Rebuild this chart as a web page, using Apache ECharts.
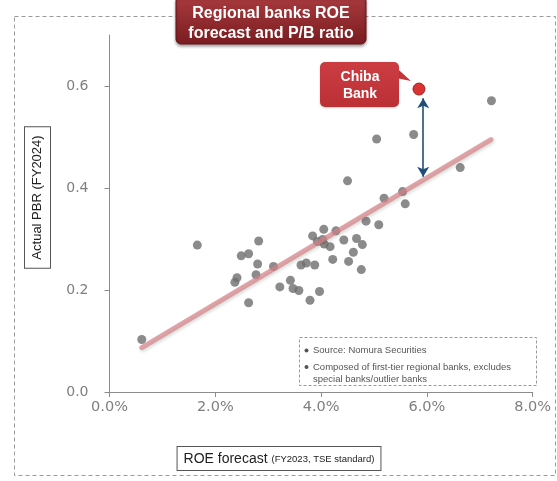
<!DOCTYPE html>
<html>
<head>
<meta charset="utf-8">
<script src="https://cdn.jsdelivr.net/npm/echarts@6/dist/echarts.min.js"></script>
<style>
html,body{margin:0;padding:0;background:#fff;}
#chart{width:557px;height:481px;}
</style>
</head>
<body>
<div id="chart"></div>
<script>
// ---- Data ----
const bankRoe = [0.61,1.66,2.49,2.63,2.82,2.80,3.10,2.77,2.41,2.37,2.63,3.22,3.42,3.47,3.58,3.79,3.97,3.62,3.72,3.88,3.84,4.05,3.93,4.03,4.06,4.17,4.28,4.43,4.22,4.52,4.61,4.67,4.78,4.76,4.85,5.09,4.50,5.19,5.54,5.59,5.05,5.75,6.63,7.22];
const bankPbr = [0.103,0.288,0.267,0.271,0.296,0.251,0.246,0.230,0.224,0.215,0.175,0.206,0.219,0.203,0.199,0.180,0.197,0.249,0.253,0.249,0.306,0.319,0.295,0.299,0.290,0.285,0.316,0.298,0.260,0.256,0.274,0.301,0.289,0.240,0.335,0.328,0.414,0.380,0.393,0.369,0.496,0.505,0.440,0.571];
const chibaRoe = [5.85];
const chibaPbr = [0.594];
const trendRoe = [0.61, 7.21];
const trendPbr = [0.087, 0.495];
const gapRoe = 5.93;
const gapPbr = [0.576, 0.422];
const xTicks = [0, 2, 4, 6, 8];
const yTicks = [0, 0.2, 0.4, 0.6];
const titleLines = ['Regional banks ROE', 'forecast and P/B ratio'];
const calloutLines = ['Chiba', 'Bank'];
const yName = 'Actual PBR (FY2024)';
const xNameMain = 'ROE forecast';
const xNameSub = '(FY2023, TSE standard)';
const notes = ['Source: Nomura Securities', 'Composed of first-tier regional banks, excludes', 'special banks/outlier banks'];

const zip = (a, b) => a.map((v, i) => [v, b[i]]);
const FONT = '"Liberation Sans", Arial, sans-serif';

const chart = echarts.init(document.getElementById('chart'), null, {renderer: 'canvas'});

const option = {
  animation: false,
  backgroundColor: '#fff',
  grid: {left: 109.5, right: 24.3, top: 35, bottom: 89},
  xAxis: {
    type: 'value', min: 0, max: 8, interval: 2,
    splitLine: {show: false},
    axisLine: {show: true, lineStyle: {color: '#8c8c8c', width: 1}},
    axisTick: {show: true, length: 5, customValues: xTicks, lineStyle: {color: '#8c8c8c'}},
    axisLabel: {
      customValues: xTicks,
      color: '#7f7f7f', fontFamily: '"DejaVu Sans", Verdana, sans-serif', fontSize: 14.5, margin: 8,
      formatter: v => v.toFixed(1) + '%'
    }
  },
  yAxis: {
    type: 'value', min: 0, max: 0.7,
    splitLine: {show: false},
    axisLine: {show: true, lineStyle: {color: '#8c8c8c', width: 1}},
    axisTick: {show: true, length: 5, customValues: yTicks, lineStyle: {color: '#8c8c8c'}},
    axisLabel: {
      customValues: yTicks,
      color: '#7f7f7f', fontFamily: '"DejaVu Sans", Verdana, sans-serif', fontSize: 14, margin: 21,
      formatter: v => v.toFixed(1)
    }
  },
  series: [
    {
      type: 'scatter', name: 'banks',
      data: zip(bankRoe, bankPbr),
      symbolSize: 9,
      itemStyle: {color: '#6e6e6e'},
      z: 2
    },
    {
      type: 'line', name: 'trend',
      data: zip(trendRoe, trendPbr),
      symbol: 'none',
      lineStyle: {color: 'rgba(214,130,136,0.72)', width: 5, cap: 'round',
        shadowColor: 'rgba(60,80,60,0.25)', shadowBlur: 3, shadowOffsetX: 1, shadowOffsetY: 2},
      z: 3,
      markLine: {
        silent: true,
        symbol: ['arrow', 'arrow'],
        symbolSize: [9, 10],
        label: {show: false},
        lineStyle: {color: '#1f4e79', width: 1.6, type: 'solid'},
        data: [[{coord: [gapRoe, gapPbr[0]]}, {coord: [gapRoe, gapPbr[1]]}]]
      }
    },
    {
      type: 'scatter', name: 'Chiba',
      data: zip(chibaRoe, chibaPbr),
      symbolSize: 12,
      itemStyle: {color: '#d00000', borderColor: '#9a0808', borderWidth: 1},
      z: 4
    }
  ],
  graphic: [
    // outer dashed frame
    {type: 'rect', shape: {x: 14.5, y: 16.5, width: 541, height: 459},
      style: {fill: 'none', stroke: '#9a9a9a', lineWidth: 1, lineDash: [4, 3]}, z: 0},
    // title box
    {type: 'rect', shape: {x: 176, y: -4, width: 190, height: 48, r: 5},
      style: {fill: new echarts.graphic.LinearGradient(0, 0, 0, 1, [
        {offset: 0, color: '#a93b3f'}, {offset: 1, color: '#7a1c20'}]),
        stroke: '#6a1518', lineWidth: 1,
        shadowColor: 'rgba(0,0,0,0.35)', shadowBlur: 3, shadowOffsetY: 2}, z: 10},
    {type: 'text', x: 271, y: 14, z: 11,
      style: {text: titleLines[0], fill: '#fff', font: 'bold 16px ' + FONT, align: 'center', verticalAlign: 'middle'}},
    {type: 'text', x: 271, y: 34, z: 11,
      style: {text: titleLines[1], fill: '#fff', font: 'bold 16px ' + FONT, align: 'center', verticalAlign: 'middle'}},
    // callout
    {type: 'polygon', shape: {points: [[390, 62], [411, 81], [396, 78]]},
      style: {fill: '#c4363b'}, z: 10},
    {type: 'rect', shape: {x: 320, y: 62, width: 79, height: 45, r: 5},
      style: {fill: new echarts.graphic.LinearGradient(0, 0, 0, 1, [
        {offset: 0, color: '#cc3d42'}, {offset: 1, color: '#bb3035'}]),
        shadowColor: 'rgba(0,0,0,0.2)', shadowBlur: 2, shadowOffsetY: 1}, z: 10},
    {type: 'text', x: 360, y: 77, z: 11,
      style: {text: calloutLines[0], fill: '#fff', font: 'bold 14px ' + FONT, align: 'center', verticalAlign: 'middle'}},
    {type: 'text', x: 360, y: 94, z: 11,
      style: {text: calloutLines[1], fill: '#fff', font: 'bold 14px ' + FONT, align: 'center', verticalAlign: 'middle'}},
    // y axis name (boxed, rotated)
    {type: 'text', x: 37.5, y: 197.5, rotation: Math.PI / 2, z: 11,
      style: {text: yName, fill: '#222', font: '13px ' + FONT, align: 'center', verticalAlign: 'middle',
        borderColor: '#555', borderWidth: 1, padding: [6, 8, 6, 8], backgroundColor: '#fff'}},
    // x axis name (boxed)
    {type: 'text', x: 279, y: 458.5, z: 11,
      style: {text: '{a|' + xNameMain + ' }{b|' + xNameSub + '}', align: 'center', verticalAlign: 'middle',
        borderColor: '#555', borderWidth: 1, padding: [5, 6, 4, 6], backgroundColor: '#fff',
        rich: {a: {fontSize: 14, fontFamily: FONT, fill: '#222', color: '#222'},
               b: {fontSize: 9.5, fontFamily: FONT, fill: '#222', color: '#222'}}}},
    // notes box
    {type: 'rect', shape: {x: 299.5, y: 337.5, width: 237, height: 48},
      style: {fill: '#fff', stroke: '#9a9a9a', lineWidth: 1, lineDash: [3, 2]}, z: 9},
    {type: 'circle', shape: {cx: 306.5, cy: 350.5, r: 2}, style: {fill: '#555'}, z: 10},
    {type: 'circle', shape: {cx: 306.5, cy: 367, r: 2}, style: {fill: '#555'}, z: 10},
    {type: 'text', x: 313, y: 350.5, z: 10,
      style: {text: notes[0], fill: '#555', font: '9.5px ' + FONT, verticalAlign: 'middle'}},
    {type: 'text', x: 313, y: 367, z: 10,
      style: {text: notes[1], fill: '#555', font: '9.5px ' + FONT, verticalAlign: 'middle'}},
    {type: 'text', x: 313, y: 379.5, z: 10,
      style: {text: notes[2], fill: '#555', font: '9.5px ' + FONT, verticalAlign: 'middle'}}
  ]
};
chart.setOption(option);
</script>
</body>
</html>
